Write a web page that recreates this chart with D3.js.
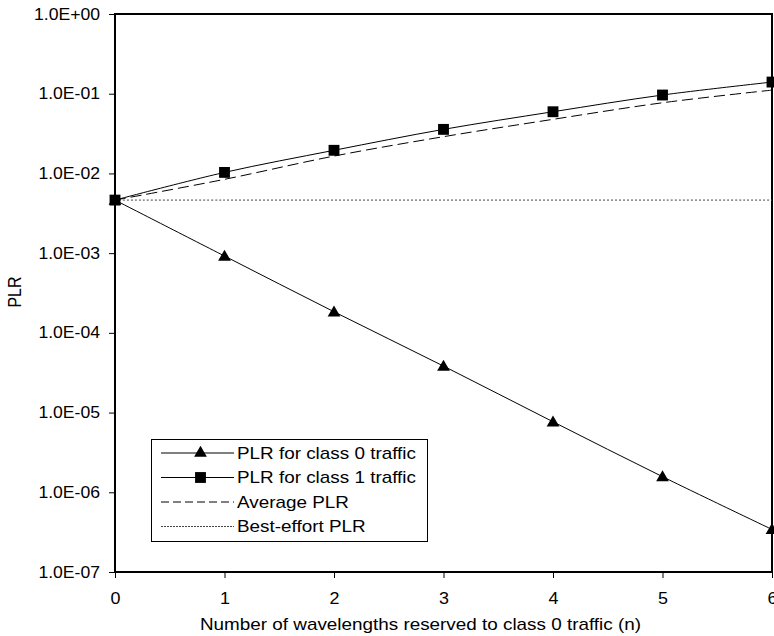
<!DOCTYPE html>
<html>
<head>
<meta charset="utf-8">
<script src="https://cdn.jsdelivr.net/npm/d3@7"></script>
<style>
  html, body { margin: 0; padding: 0; background: #fff; }
  svg { display: block; }
  text { font-family: "Liberation Sans", Arial, sans-serif; fill: #000; }
</style>
</head>
<body>
<svg id="chart" width="774" height="636"></svg>
<script>
// Packet loss ratio versus wavelengths reserved to class 0 traffic
const wavelengths = [0, 1, 2, 3, 4, 5, 6];
const plrClass0   = [4.63e-3, 9.2e-4, 1.84e-4, 3.83e-5, 7.67e-6, 1.57e-6, 3.42e-7];
const plrClass1   = [4.63e-3, 1.03e-2, 1.95e-2, 3.57e-2, 5.94e-2, 9.63e-2, 1.40e-1];
const plrAverage  = [4.63e-3, 8.43e-3, 1.65e-2, 2.89e-2, 4.77e-2, 7.7e-2, 1.11e-1];
const plrBestEffort = [4.63e-3, 4.63e-3, 4.63e-3, 4.63e-3, 4.63e-3, 4.63e-3, 4.63e-3];

const yTickValues = [1e0, 1e-1, 1e-2, 1e-3, 1e-4, 1e-5, 1e-6, 1e-7];
const yTickLabels = ["1.0E+00", "1.0E-01", "1.0E-02", "1.0E-03", "1.0E-04", "1.0E-05", "1.0E-06", "1.0E-07"];
const xTickLabels = ["0", "1", "2", "3", "4", "5", "6"];

const legendLabels = ["PLR for class 0 traffic", "PLR for class 1 traffic", "Average PLR", "Best-effort PLR"];

const svg = d3.select("#chart");
const plot = { left: 115, right: 772, top: 14, bottom: 572 };

const x = d3.scaleLinear().domain([0, 6]).range([plot.left, plot.right]);
const y = d3.scaleLog().domain([1e-7, 1e0]).range([plot.bottom, plot.top]);

const fontSize = 16;

// Widen text horizontally about its own anchor point
function widen(sel, s) {
  sel.each(function () {
    const t = d3.select(this);
    const ax = +t.attr("x") || 0;
    const prev = t.attr("transform") || "";
    t.attr("transform", `${prev} translate(${ax},0) scale(${s},1) translate(${-ax},0)`);
  });
}

// Y axis
const yAxis = d3.axisLeft(y)
  .tickValues(yTickValues)
  .tickFormat((d, i) => yTickLabels[i])
  .tickSizeInner(6).tickSizeOuter(0).tickPadding(9);
const gy = svg.append("g").attr("transform", `translate(${plot.left},0)`).call(yAxis);
gy.select(".domain").remove();
gy.selectAll("line").attr("stroke", "#000").attr("stroke-width", 1);
gy.selectAll("text").attr("font-size", fontSize).attr("font-family", "Liberation Sans, Arial, sans-serif");
widen(gy.selectAll("text"), 1.1);

// X axis
const xAxis = d3.axisBottom(x)
  .tickValues(wavelengths)
  .tickFormat((d, i) => xTickLabels[i])
  .tickSizeInner(6).tickSizeOuter(0).tickPadding(15);
const gx = svg.append("g").attr("transform", `translate(0,${plot.bottom})`).call(xAxis);
gx.select(".domain").remove();
gx.selectAll("line").attr("stroke", "#000").attr("stroke-width", 1);
gx.selectAll("text").attr("font-size", fontSize).attr("font-family", "Liberation Sans, Arial, sans-serif");
widen(gx.selectAll("text"), 1.12);

// Plot frame
svg.append("rect")
  .attr("x", plot.left).attr("y", plot.top)
  .attr("width", plot.right - plot.left).attr("height", plot.bottom - plot.top)
  .attr("fill", "none").attr("stroke", "#000").attr("stroke-width", 2);

// Axis titles
const xTitle = svg.append("text")
  .attr("x", 420.5).attr("y", 630)
  .attr("text-anchor", "middle").attr("font-size", fontSize)
  .text("Number of wavelengths reserved to class 0 traffic (n)");
widen(xTitle, 1.18);
svg.append("text")
  .attr("transform", "translate(21,292) scale(1.16,1) rotate(-90)")
  .attr("text-anchor", "middle").attr("font-size", fontSize)
  .text("PLR");

// Series
const series = [
  { values: plrBestEffort, dash: "2,2", color: "#444", marker: null },
  { values: plrAverage, dash: "11,5", color: "#000", marker: null },
  { values: plrClass1, dash: null, color: "#000", marker: "square" },
  { values: plrClass0, dash: null, color: "#000", marker: "triangle" }
];

const line = d3.line()
  .x((d, i) => x(wavelengths[i]))
  .y(d => y(d))
  .curve(d3.curveCatmullRom.alpha(0.5));

const triangle = d3.symbol().type(d3.symbolTriangle).size(70);
const square = d3.symbol().type(d3.symbolSquare).size(118);

series.forEach(s => {
  svg.append("path")
    .datum(s.values)
    .attr("d", line)
    .attr("fill", "none")
    .attr("stroke", s.color)
    .attr("stroke-width", 1)
    .attr("stroke-dasharray", s.dash);
  if (s.marker) {
    svg.selectAll(null)
      .data(s.values)
      .enter().append("path")
      .attr("transform", (d, i) => `translate(${x(wavelengths[i])},${y(d) + (s.marker === "triangle" ? 1 : 0)})`)
      .attr("d", s.marker === "triangle" ? triangle() : square())
      .attr("fill", "#000");
  }
});

// Legend
const legend = svg.append("g");
legend.append("rect")
  .attr("x", 151.5).attr("y", 439.5).attr("width", 276).attr("height", 102)
  .attr("fill", "#fff").attr("stroke", "#000").attr("stroke-width", 1);

const legendItems = [
  { dash: null, color: "#000", marker: "triangle" },
  { dash: null, color: "#000", marker: "square" },
  { dash: "8,4", color: "#000", marker: null },
  { dash: "2,1", color: "#444", marker: null }
];
legendItems.forEach((item, i) => {
  const cy = 453 + i * 24.5;
  legend.append("line")
    .attr("x1", 161).attr("x2", 234).attr("y1", cy).attr("y2", cy)
    .attr("stroke", item.color).attr("stroke-width", 1)
    .attr("stroke-dasharray", item.dash);
  if (item.marker) {
    legend.append("path")
      .attr("transform", `translate(200.5,${cy})`)
      .attr("d", item.marker === "triangle" ? triangle() : square())
      .attr("fill", "#000");
  }
  const t = legend.append("text")
    .attr("x", 237).attr("y", cy).attr("dy", "0.35em")
    .attr("font-size", fontSize)
    .text(legendLabels[i]);
  widen(t, 1.18);
});
</script>
</body>
</html>
